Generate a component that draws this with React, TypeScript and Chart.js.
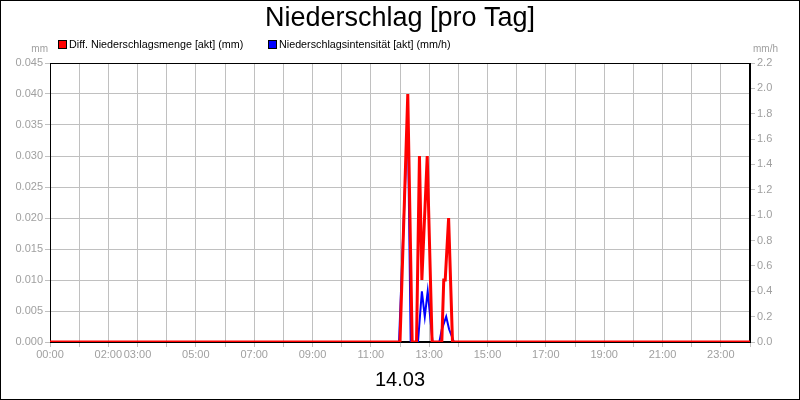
import React, { useEffect, useRef } from 'react';
import { Chart, registerables } from 'chart.js';

Chart.register(...registerables);

// Diff. Niederschlagsmenge (mm), left axis
const rainTimes = ['00:00', '12:00', '12:16', '12:25', '12:34', '12:40', '12:45', '12:56', '13:06', '13:26', '13:30', '13:33', '13:40', '13:48', '24:00'];
const rainAmount = [0, 0, 0.04, 0, 0, 0.03, 0.01, 0.03, 0, 0, 0.01, 0.01, 0.02, 0, 0];

// Niederschlagsintensität (mm/h), right axis
const intensityTimes = ['00:00', '11:58', '12:16', '12:22', '12:37', '12:45', '12:51', '12:57', '13:07', '13:21', '13:26', '13:35', '13:41', '13:51', '24:00'];
const intensityValues = [0, 0, 1.8, 0, 0, 0.4, 0.2, 0.4, 0, 0, 0.1, 0.2, 0.1, 0, 0];

const hourLabels = ['00:00', '02:00', '03:00', '05:00', '07:00', '09:00', '11:00', '13:00', '15:00', '17:00', '19:00', '21:00', '23:00'];

const FONT = '"Liberation Sans", Arial, sans-serif';
const GRID = '#c0c0c0';
const TICK_TEXT = '#a0a0a0';

const toMinutes = (t: string) => {
  const [h, m] = t.split(':').map(Number);
  return h * 60 + m;
};

const overlay = {
  id: 'overlay',
  beforeDatasetsDraw(chart: any) {
    const { ctx, chartArea: a } = chart;
    ctx.save();
    ctx.strokeStyle = '#000';
    ctx.lineWidth = 1;
    ctx.strokeRect(a.left + 0.5, a.top + 0.5, a.right - a.left - 1, a.bottom - a.top - 1);
    ctx.restore();
  },
  afterDraw(chart: any) {
    const { ctx } = chart;
    ctx.save();
    ctx.strokeStyle = '#000';
    ctx.lineWidth = 1;
    ctx.strokeRect(0.5, 0.5, 799, 399);

    ctx.fillStyle = '#000';
    ctx.textAlign = 'center';
    ctx.textBaseline = 'middle';
    ctx.font = `27px ${FONT}`;
    ctx.fillText('Niederschlag [pro Tag]', 400, 19);

    ctx.font = `20px ${FONT}`;
    ctx.fillText('14.03', 400, 380);

    const legend = [
      { text: 'Diff. Niederschlagsmenge [akt] (mm)', color: '#ff0000', x: 58 },
      { text: 'Niederschlagsintensität [akt] (mm/h)', color: '#0000ff', x: 268 },
    ];
    ctx.font = `10.75px ${FONT}`;
    ctx.textAlign = 'left';
    legend.forEach((l) => {
      ctx.fillStyle = l.color;
      ctx.fillRect(l.x, 40, 9, 9);
      ctx.strokeStyle = '#000';
      ctx.strokeRect(l.x + 0.5, 40.5, 8, 8);
      ctx.fillStyle = '#000';
      ctx.fillText(l.text, l.x + 11, 45);
    });

    ctx.fillStyle = TICK_TEXT;
    ctx.font = `10px ${FONT}`;
    ctx.textAlign = 'right';
    ctx.fillText('mm', 48, 49);
    ctx.textAlign = 'left';
    ctx.fillText('mm/h', 753, 49);
    ctx.restore();
  },
};

function App() {
  const chartRef = useRef<HTMLCanvasElement | null>(null);
  const chartInstance = useRef<Chart | null>(null);

  useEffect(() => {
    document.body.style.margin = '0';
    if (chartInstance.current) {
      chartInstance.current.destroy();
    }
    const ctx = chartRef.current?.getContext('2d');
    if (ctx) {
      chartInstance.current = new Chart(ctx, {
        type: 'line',
        data: {
          datasets: [
            {
              label: 'Diff. Niederschlagsmenge [akt] (mm)',
              data: rainTimes.map((t, i) => ({ x: toMinutes(t), y: rainAmount[i] })),
              borderColor: '#ff0000',
              borderWidth: 3,
              pointRadius: 0,
              tension: 0,
              yAxisID: 'y',
            },
            {
              label: 'Niederschlagsintensität [akt] (mm/h)',
              data: intensityTimes.map((t, i) => ({ x: toMinutes(t), y: intensityValues[i] })),
              borderColor: '#0000ff',
              borderWidth: 2,
              pointRadius: 0,
              tension: 0,
              yAxisID: 'y1',
            },
          ],
        },
        options: {
          responsive: false,
          animation: false,
          layout: { padding: { top: 63, left: 0, right: 0, bottom: 0 } },
          plugins: {
            legend: { display: false },
            title: { display: false },
            tooltip: { enabled: false },
          },
          scales: {
            x: {
              type: 'linear',
              min: 0,
              max: 1440,
              afterFit: (scale: any) => {
                scale.height = 58;
              },
              ticks: {
                stepSize: 60,
                autoSkip: false,
                maxRotation: 0,
                padding: 1,
                color: TICK_TEXT,
                font: { family: FONT, size: 11 },
                callback: (v: any) => {
                  const h = Math.round(Number(v) / 60);
                  const label = String(h).padStart(2, '0') + ':00';
                  return hourLabels.includes(label) ? label : '';
                },
              },
              grid: { color: GRID, tickLength: 5, tickColor: GRID },
              border: { color: '#000' },
            },
            y: {
              position: 'left',
              min: 0,
              max: 0.045,
              afterFit: (scale: any) => {
                scale.width = 50;
              },
              ticks: {
                stepSize: 0.005,
                padding: 2,
                color: TICK_TEXT,
                font: { family: FONT, size: 11 },
                callback: (v: any) => Number(v).toFixed(3),
              },
              grid: { color: GRID, tickLength: 5, tickColor: GRID },
              border: { color: '#000' },
            },
            y1: {
              position: 'right',
              min: 0,
              max: 2.2,
              afterFit: (scale: any) => {
                scale.width = 50;
              },
              ticks: {
                stepSize: 0.2,
                padding: 2,
                color: TICK_TEXT,
                font: { family: FONT, size: 11 },
                callback: (v: any) => Number(v).toFixed(1),
              },
              grid: { drawOnChartArea: false, tickLength: 5, tickColor: GRID },
              border: { color: '#000' },
            },
          },
        },
        plugins: [overlay],
      });
    }
    return () => {
      if (chartInstance.current) {
        chartInstance.current.destroy();
      }
    };
  }, []);

  return (
    <div style={{ width: '800px', height: '400px', background: '#fff' }}>
      <canvas ref={chartRef} width={800} height={400} />
    </div>
  );
}

export default App;
